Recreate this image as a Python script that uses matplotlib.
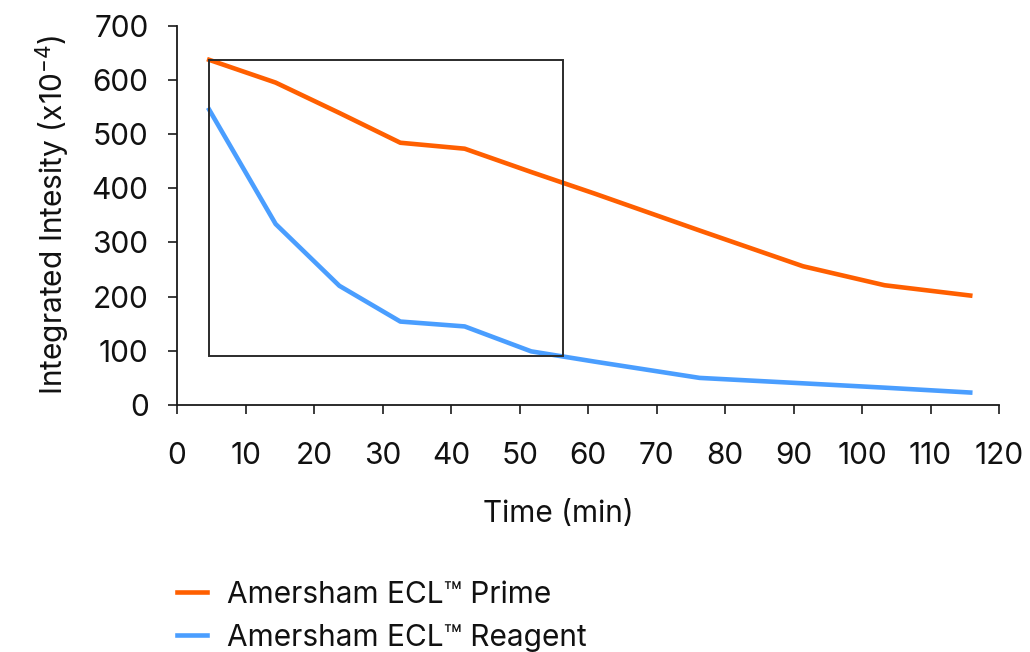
import matplotlib
matplotlib.use("Agg")
import matplotlib.pyplot as plt
from matplotlib.patches import Rectangle

plt.rcParams['font.family'] = ['Inter', 'DejaVu Sans']
plt.rcParams['mathtext.fontset'] = 'custom'
plt.rcParams['mathtext.rm'] = 'Inter'
plt.rcParams['mathtext.it'] = 'Inter'

time_min = [4.7, 14.4, 23.7, 32.6, 42, 51.7, 61, 76.3, 91.4, 103.3, 115.8]
prime = [637, 595, 539, 484, 473, 430, 390, 322, 256, 221, 202]
reagent = [545, 334, 220, 154, 145, 99, 80, 50, 40, 32, 23]

series_labels = ["Amersham ECL™ Prime", "Amersham ECL™ Reagent"]
colors = ["#FF5F00", "#4A9EFF"]

x_ticks = list(range(0, 121, 10))
y_ticks = list(range(0, 701, 100))

box_x = (4.7, 56.3)
box_y = (90, 637)

FS = 21.5

fig = plt.figure(figsize=(10.30, 6.52), dpi=100)
ax = fig.add_axes([177/1030, 1-405/652, (999-177)/1030, (405-25.7)/652])

l1, = ax.plot(time_min, prime, color=colors[0], lw=3.3, solid_joinstyle='round', zorder=3)
l2, = ax.plot(time_min, reagent, color=colors[1], lw=3.3, solid_joinstyle='round', zorder=3)

ax.add_patch(Rectangle((box_x[0], box_y[0]), box_x[1]-box_x[0], box_y[1]-box_y[0],
                       fill=False, edgecolor='#2b2b2b', lw=1.4, zorder=4))

ax.set_xlim(0, 120)
ax.set_ylim(0, 700)
ax.set_xticks(x_ticks)
ax.set_yticks(y_ticks)
for s in ['top', 'right']:
    ax.spines[s].set_visible(False)
for s in ['left', 'bottom']:
    ax.spines[s].set_linewidth(1.3)
    ax.spines[s].set_color('#1a1a1a')
ax.tick_params(axis='both', length=6.5, width=1.2, color='#1a1a1a', labelsize=FS, labelcolor='#111111')
ax.tick_params(axis='x', pad=20)
ax.tick_params(axis='y', pad=14)

ax.set_xlabel("Time (min)", fontsize=FS, labelpad=22, color='#111111')
ax.xaxis.label.set_x((558-177)/822)
ax.set_ylabel("Integrated Intesity (x10$^{-4}$)", fontsize=FS, labelpad=14, color='#111111')

fig.legend([l1, l2], series_labels, loc='upper left', bbox_to_anchor=(150/1030, 1-554/652),
           frameon=False, fontsize=FS, handlelength=1.0, handletextpad=0.68, labelspacing=0.5,
           labelcolor='#111111')

fig.savefig("out.png", dpi=100)
